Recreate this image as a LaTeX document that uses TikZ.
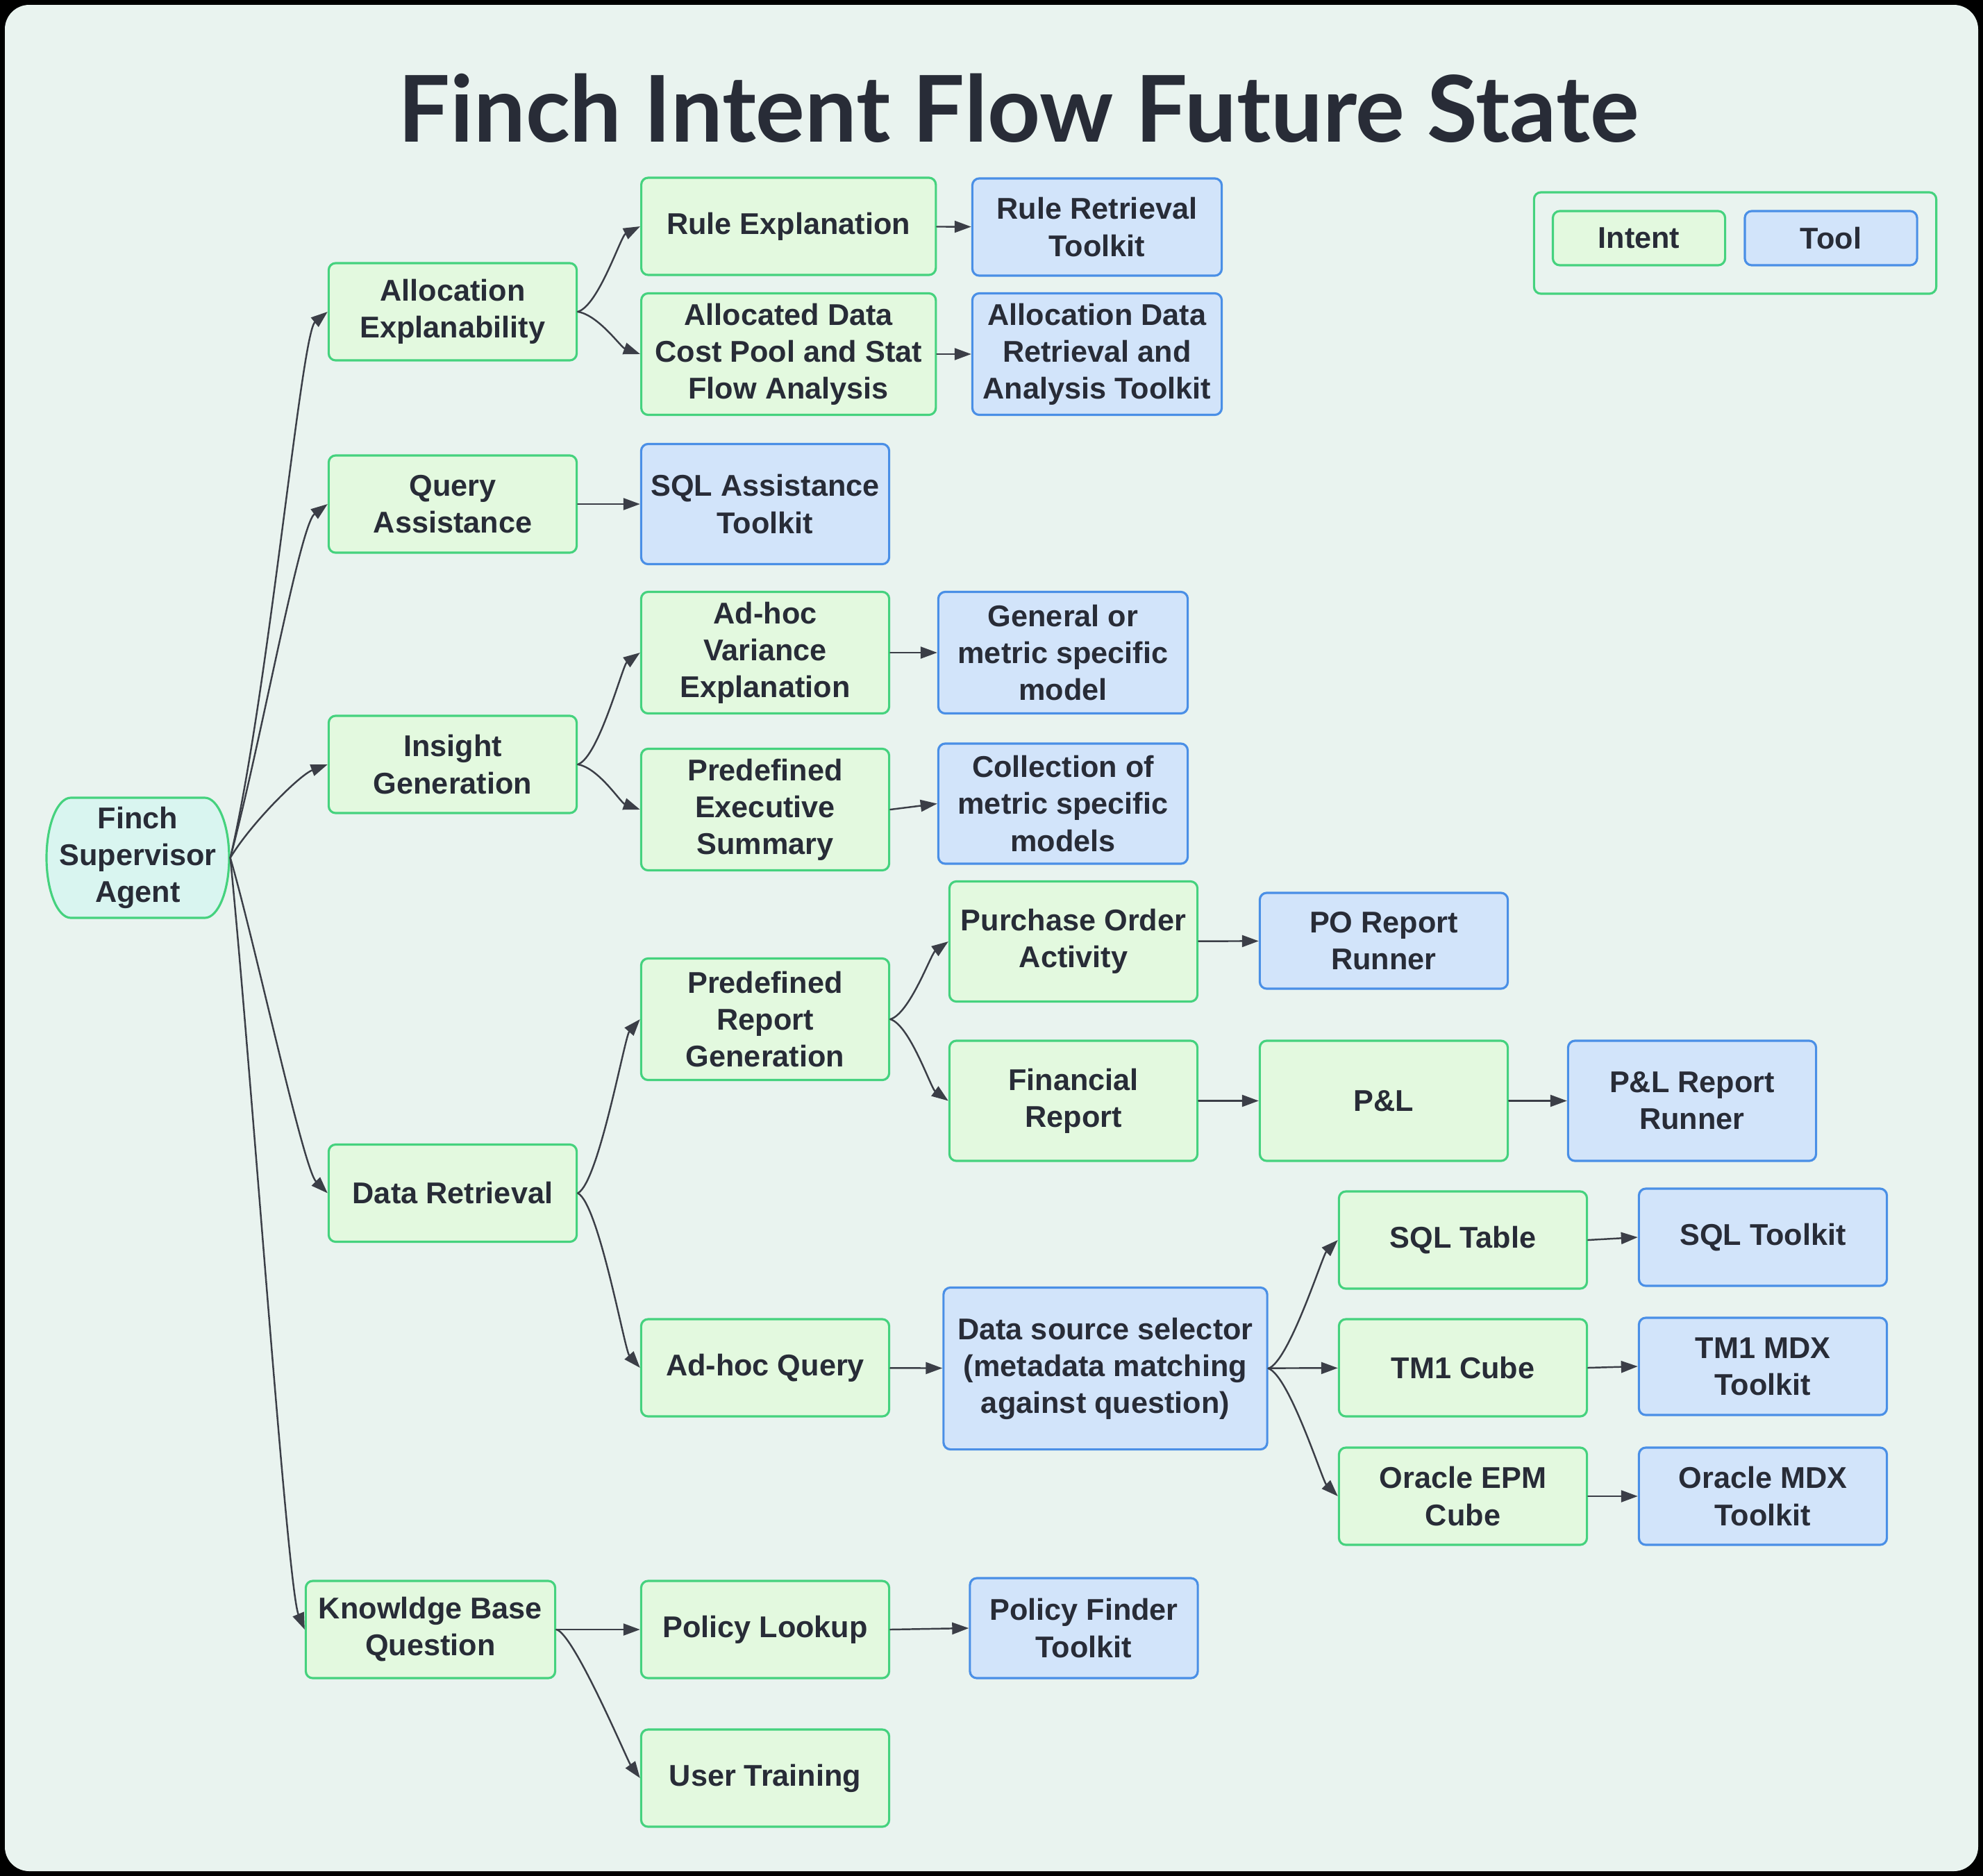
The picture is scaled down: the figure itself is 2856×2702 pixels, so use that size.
\documentclass[tikz,border=0pt]{standalone}
\usepackage{fontspec}
\setmainfont{Liberation Sans}
\newfontfamily\titlefont{Lato}
\usetikzlibrary{arrows.meta}
\definecolor{bgcol}{HTML}{E9F3EF}
\definecolor{intentfill}{HTML}{E3F9DF}
\definecolor{intentline}{HTML}{45D27E}
\definecolor{toolfill}{HTML}{D2E4FA}
\definecolor{toolline}{HTML}{4A8FE6}
\definecolor{agentfill}{HTML}{D9F5F0}
\definecolor{txtcol}{HTML}{282C37}
\definecolor{linkcol}{HTML}{3B3E47}
\begin{document}
\begin{tikzpicture}[x=0.01cm, y=-0.01cm, line join=round, line cap=round, >={Triangle[length=0.24cm,width=0.17cm]}]
	\tikzset{
		box/.style={rectangle, rounded corners=0.1cm, line width=0.9pt, minimum width=3.57cm, minimum height=1.4cm, inner sep=2pt, align=center, text=txtcol, font=\fontsize{12.3}{15.1}\selectfont\bfseries},
		intent/.style={box, draw=intentline, fill=intentfill},
		tool/.style={box, draw=toolline, fill=toolfill},
		tall/.style={minimum height=1.75cm},
		link/.style={->, draw=linkcol, line width=0.7pt}
	}
	\useasboundingbox (0,0) rectangle (2856,2702);
	\fill[black] (0,0) rectangle (2856,2702);
	\fill[bgcol, rounded corners=0.35cm] (7,7) rectangle (2849,2695);
	\node[anchor=base, text=txtcol, font=\titlefont\bfseries\fontsize{37.7}{44}\selectfont] (title) at (1467,204) {Finch Intent Flow Future State};
	% legend
	\node[draw=intentline, line width=0.9pt, rounded corners=0.1cm, minimum width=5.79cm, minimum height=1.46cm] (legend) at (2499,350) {};
	\node[intent, minimum width=2.48cm, minimum height=0.78cm] (keyintent) at (2360.5,343) {Intent};
	\node[tool, minimum width=2.48cm, minimum height=0.78cm] (keytool) at (2637,343) {Tool};
	% supervisor
	\filldraw[fill=agentfill, draw=intentline, line width=0.9pt] (102,1149) -- (295,1149) .. controls +(19,0) and +(0,-48) .. (330,1235.5) .. controls +(0,48) and +(19,0) .. (295,1322) -- (102,1322) .. controls +(-19,0) and +(0,48) .. (67,1235.5) .. controls +(0,-48) and +(-19,0) .. cycle;
	\node[box, minimum width=2.63cm, minimum height=1.73cm] (sup) at (198.5,1235.5) {Finch\\Supervisor\\Agent};
	% first level
	\node[intent] (allexp) at (652,449) {Allocation\\Explanability};
	\node[intent] (query) at (652,726) {Query\\Assistance};
	\node[intent] (insight) at (652,1101) {Insight\\Generation};
	\node[intent] (dataret) at (652,1718.5) {Data Retrieval};
	\node[intent, minimum width=3.59cm] (kbq) at (620,2347) {Knowldge Base\\Question};
	% allocation
	\node[intent, minimum width=4.24cm] (ruleexp) at (1135.7,326) {Rule Explanation};
	\node[tool, minimum width=3.59cm] (ruletk) at (1580,327) {Rule Retrieval\\Toolkit};
	\node[intent, tall, minimum width=4.24cm] (allocdata) at (1135.7,510) {Allocated Data\\Cost Pool and Stat\\Flow Analysis};
	\node[tool, tall, minimum width=3.59cm] (alloctk) at (1580,510) {Allocation Data\\Retrieval and\\Analysis Toolkit};
	% query
	\node[tool, minimum height=1.73cm] (sqlassist) at (1102,726) {SQL Assistance\\Toolkit};
	% insight
	\node[intent, tall] (adhocvar) at (1102,940) {Ad-hoc\\Variance\\Explanation};
	\node[tool, tall, minimum width=3.59cm] (general) at (1531,940) {General or\\metric specific\\model};
	\node[intent, tall] (predexec) at (1102,1166) {Predefined\\Executive\\Summary};
	\node[tool, minimum height=1.73cm, minimum width=3.59cm] (collection) at (1531,1157.5) {Collection of\\metric specific\\models};
	% reports
	\node[intent, tall] (predreport) at (1102,1468) {Predefined\\Report\\Generation};
	\node[intent, minimum height=1.73cm] (purchase) at (1546,1356) {Purchase Order\\Activity};
	\node[tool, minimum height=1.38cm] (porunner) at (1993,1355) {PO Report\\Runner};
	\node[intent, minimum height=1.73cm] (financial) at (1546,1585.5) {Financial\\Report};
	\node[intent, minimum height=1.73cm] (pl) at (1993,1585.5) {P\&L};
	\node[tool, minimum height=1.73cm] (plrunner) at (2437,1585.5) {P\&L Report\\Runner};
	% ad-hoc query
	\node[intent] (adhocq) at (1102,1970) {Ad-hoc Query};
	\node[tool, minimum width=4.66cm, minimum height=2.33cm] (dss) at (1592,1971) {Data source selector\\(metadata matching\\against question)};
	\node[intent] (sqltable) at (2107,1786) {SQL Table};
	\node[tool] (sqltk) at (2539,1782) {SQL Toolkit};
	\node[intent] (tm1) at (2107,1970) {TM1 Cube};
	\node[tool] (tm1tk) at (2539,1968) {TM1 MDX\\Toolkit};
	\node[intent] (oracle) at (2107,2155) {Oracle EPM\\Cube};
	\node[tool] (oracletk) at (2539,2155) {Oracle MDX\\Toolkit};
	% knowledge base
	\node[intent] (policy) at (1102,2347) {Policy Lookup};
	\node[tool, minimum width=3.28cm, minimum height=1.44cm] (policytk) at (1561,2345) {Policy Finder\\Toolkit};
	\node[intent] (usertrain) at (1102,2561) {User Training};
	% connectors
	\draw[link] (sup.east) .. controls +(55,-235) and +(-38,31) .. (allexp.west);
	\draw[link] (sup.east) .. controls +(45,-170) and +(-40,30) .. (query.west);
	\draw[link] (sup.east) .. controls +(30,-50) and +(-40,15) .. (insight.west);
	\draw[link] (sup.east) .. controls +(35,120) and +(-35,-35) .. (dataret.west);
	\draw[link] (sup.east) .. controls +(30,300) and +(-25,-60) .. (kbq.west);
	\draw[link] (allexp.east) .. controls +(30,-9) and +(-28,14) .. (ruleexp.west);
	\draw[link] (allexp.east) .. controls +(30,5) and +(-28,-10) .. (allocdata.west);
	\draw[link] (ruleexp) -- (ruletk);
	\draw[link] (allocdata) -- (alloctk);
	\draw[link] (query) -- (sqlassist);
	\draw[link] (insight.east) .. controls +(30,-10) and +(-25,18) .. (adhocvar.west);
	\draw[link] (insight.east) .. controls +(30,5) and +(-28,-10) .. (predexec.west);
	\draw[link] (adhocvar) -- (general);
	\draw[link] (predexec.east) -- (collection.west);
	\draw[link] (dataret.east) .. controls +(30,-15) and +(-22,25) .. (predreport.west);
	\draw[link] (dataret.east) .. controls +(30,15) and +(-22,-25) .. (adhocq.west);
	\draw[link] (predreport.east) .. controls +(28,-8) and +(-25,18) .. (purchase.west);
	\draw[link] (predreport.east) .. controls +(28,8) and +(-25,-18) .. (financial.west);
	\draw[link] (purchase) -- (porunner);
	\draw[link] (financial) -- (pl);
	\draw[link] (pl) -- (plrunner);
	\draw[link] (adhocq) -- (dss);
	\draw[link] (dss.east) .. controls +(30,-10) and +(-22,22) .. (sqltable.west);
	\draw[link] (dss) -- (tm1);
	\draw[link] (dss.east) .. controls +(30,10) and +(-22,-22) .. (oracle.west);
	\draw[link] (sqltable.east) -- (sqltk.west);
	\draw[link] (tm1.east) -- (tm1tk.west);
	\draw[link] (oracle) -- (oracletk);
	\draw[link] (kbq) -- (policy);
	\draw[link] (kbq.east) .. controls +(25,5) and +(-18,-25) .. (usertrain.west);
	\draw[link] (policy.east) -- (policytk.west);
\end{tikzpicture}
\end{document}
